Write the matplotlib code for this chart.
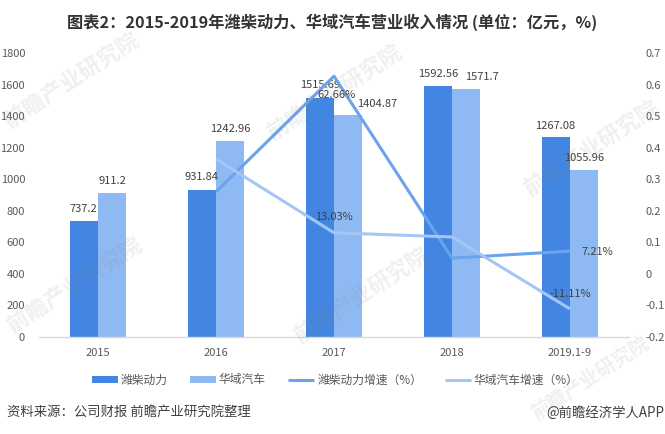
import matplotlib
matplotlib.use('Agg')
import matplotlib.pyplot as plt
import numpy as np

plt.rcParams['font.family'] = ['Noto Sans CJK SC', 'DejaVu Sans']

W, H = 665, 434

categories = ['2015', '2016', '2017', '2018', '2019.1-9']
weichai_rev = [737.2, 931.84, 1515.69, 1592.56, 1267.08]
huayu_rev = [911.2, 1242.96, 1404.87, 1571.7, 1055.96]
weichai_growth = [None, 0.26, 0.6266, 0.05, 0.0721]
huayu_growth = [None, 0.364, 0.1303, 0.117, -0.1111]
weichai_rev_labels = ['737.2', '931.84', '1515.69', '1592.56', '1267.08']
huayu_rev_labels = ['911.2', '1242.96', '1404.87', '1571.7', '1055.96']
left_ticks = [0, 200, 400, 600, 800, 1000, 1200, 1400, 1600, 1800]
right_ticks = [-0.2, -0.1, 0, 0.1, 0.2, 0.3, 0.4, 0.5, 0.6, 0.7]
right_tick_labels = ['-0.2', '-0.1', '0', '0.1', '0.2', '0.3', '0.4', '0.5', '0.6', '0.7']

DARK = '#4285e2'
LIGHT = '#8fb9f3'
DARK_LINE = '#6ba3ec'
LIGHT_LINE = '#a3c6f6'
TEXT = '#404040'
TICK = '#595959'

fig = plt.figure(figsize=(W / 100, H / 100), dpi=100)
ax = fig.add_axes([39 / W, 1 - 337 / H, 590 / W, 284 / H])
ax.set_xlim(-0.5, 4.5)
ax.set_ylim(0, 1800)

x = np.arange(len(categories))
bw = 0.24
ax.bar(x - bw / 2, weichai_rev, bw, color=DARK, label='潍柴动力')
ax.bar(x + bw / 2, huayu_rev, bw, color=LIGHT, label='华域汽车')

for sp in ['top', 'left', 'right']:
    ax.spines[sp].set_visible(False)
ax.spines['bottom'].set_color('#d9d9d9')
ax.spines['bottom'].set_linewidth(1)
ax.set_xticks(x)
ax.set_xticklabels(categories)
ax.set_yticks(left_ticks)
ax.tick_params(axis='both', length=0, labelsize=8, labelcolor=TICK)
ax.tick_params(axis='x', pad=8)
ax.tick_params(axis='y', pad=10)

ax2 = ax.twinx()
ax2.set_ylim(-0.2, 0.7)
ax2.set_yticks(right_ticks)
ax2.set_yticklabels(right_tick_labels)
ax2.tick_params(axis='y', length=0, labelsize=8, labelcolor=TICK, pad=12)
for sp in ax2.spines.values():
    sp.set_visible(False)
ax2.plot(x[1:], weichai_growth[1:], color=DARK_LINE, lw=2.2, label='潍柴动力增速（%）', solid_capstyle='butt')
ax2.plot(x[1:], huayu_growth[1:], color=LIGHT_LINE, lw=2.2, label='华域汽车增速（%）', solid_capstyle='butt')

# value labels, nudged by hand like the original
w_off = [(0, 7), (0, 8), (0, 8), (0, 7), (-1, 6)]
h_off = [(0, 7), (0, 7), (29, 6), (16, 7), (0, 7)]
for i in range(len(categories)):
    ax.annotate(weichai_rev_labels[i], (x[i] - bw / 2, weichai_rev[i]), xytext=w_off[i],
                textcoords='offset pixels', ha='center', va='bottom', fontsize=8, color=TEXT)
    ax.annotate(huayu_rev_labels[i], (x[i] + bw / 2, huayu_rev[i]), xytext=h_off[i],
                textcoords='offset pixels', ha='center', va='bottom', fontsize=8, color=TEXT)

ax2.annotate('62.66%', (2, 0.6266), xytext=(3, -19), textcoords='offset pixels', ha='center', va='center', fontsize=8, color=TEXT)
ax2.annotate('13.03%', (2, 0.1303), xytext=(0, 16), textcoords='offset pixels', ha='center', va='center', fontsize=8, color=TEXT)
ax2.annotate('7.21%', (4, 0.0721), xytext=(27, -1), textcoords='offset pixels', ha='center', va='center', fontsize=8, color=TEXT)
ax2.annotate('-11.11%', (4, -0.1111), xytext=(0, 15), textcoords='offset pixels', ha='center', va='center', fontsize=8, color=TEXT)

h1, l1 = ax.get_legend_handles_labels()
h2, l2 = ax2.get_legend_handles_labels()
fig.legend(h1 + h2, l1 + l2, ncol=4, loc='center', bbox_to_anchor=(335 / W, 1 - 380 / H), frameon=False,
           fontsize=8.5, labelcolor=TICK, columnspacing=1.9, handlelength=2.2, handleheight=0.55, handletextpad=0.25)

fig.text(332 / W, 1 - 22 / H, '图表2：2015-2019年潍柴动力、华域汽车营业收入情况 (单位：亿元，%)', ha='center', va='center',
         fontsize=11.7, fontweight='bold', color='#333333')
fig.text(7 / W, 1 - 413 / H, '资料来源：公司财报 前瞻产业研究院整理', ha='left', va='center', fontsize=9.6, color=TEXT)
fig.text(664 / W, 1 - 413 / H, '@前瞻经济学人APP', ha='right', va='center', fontsize=9.6, color=TEXT)

# faint watermarks
for wx, wy, ws in [(72, 80, 16), (335, 92, 16), (592, 148, 16), (75, 285, 16), (362, 295, 16), (590, 378, 14)]:
    fig.text(wx / W, 1 - wy / H, '前瞻产业研究院', rotation=33, ha='center', va='center', fontsize=ws,
             fontweight='bold', color='#888888', alpha=0.13, zorder=10)

fig.savefig('out.png', dpi=100)
